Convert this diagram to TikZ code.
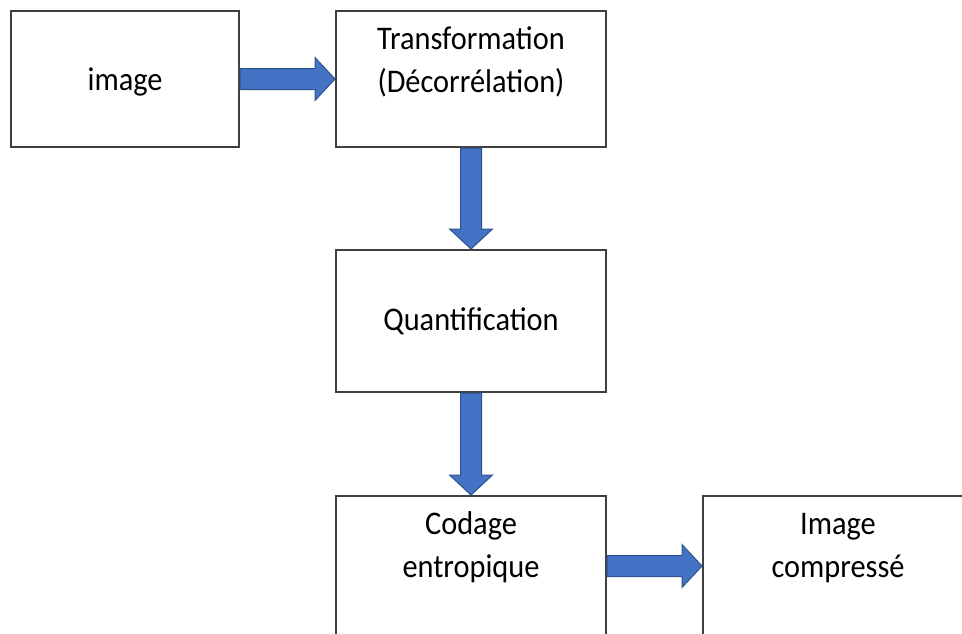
\documentclass[tikz,border=0pt]{standalone}
\usepackage{fontspec}
\setmainfont{Carlito}[FakeStretch=0.92]
\usetikzlibrary{positioning,calc}

\definecolor{arrowblue}{HTML}{4472C4}
\definecolor{arrowedge}{HTML}{2F528F}
\definecolor{boxline}{HTML}{404040}

\newcommand{\blockarrow}[2]{%
	\path ($(#2)!10pt!(#1)$) coordinate (head);
	\filldraw[barrow] ($(#1)!5.25pt!90:(#2)$) -- ($(head)!5.25pt!90:(#2)$) -- ($(head)!10.75pt!90:(#2)$) -- (#2)
		-- ($(head)!10.75pt!-90:(#2)$) -- ($(head)!5.25pt!-90:(#2)$) -- ($(#1)!5.25pt!-90:(#2)$) -- cycle;}

\begin{document}
\begin{tikzpicture}[node distance=50.5pt and 47.5pt,
	block/.style={draw=boxline,line width=1pt,fill=white,align=center,minimum width=135pt,minimum height=68pt,font=\fontsize{16.5}{21.5}\selectfont},
	raised/.style={text depth=21pt},
	barrow/.style={fill=arrowblue,draw=arrowedge,line width=0.5pt}]
	\clip (0,0) rectangle (481pt,-316.5pt);
	\node[block,minimum width=114pt,text depth=0pt] (img) at (62.5pt,-39.5pt) {image};
	\node[block,raised,text depth=19pt,right=of img] (trans) {Transformation\\(Décorrélation)};
	\node[block,minimum height=71pt,below=of trans] (quant) {Quantification};
	\node[block,raised,minimum height=70pt,below=51pt of quant] (codage) {Codage\\entropique};
	\node[block,raised,minimum height=70pt,right=of codage] (comp) {Image\\compressé};
	% fleches pleines
	\blockarrow{img.east}{trans.west}
	\blockarrow{trans.south}{quant.north}
	\blockarrow{quant.south}{codage.north}
	\blockarrow{codage.east}{comp.west}
\end{tikzpicture}
\end{document}
